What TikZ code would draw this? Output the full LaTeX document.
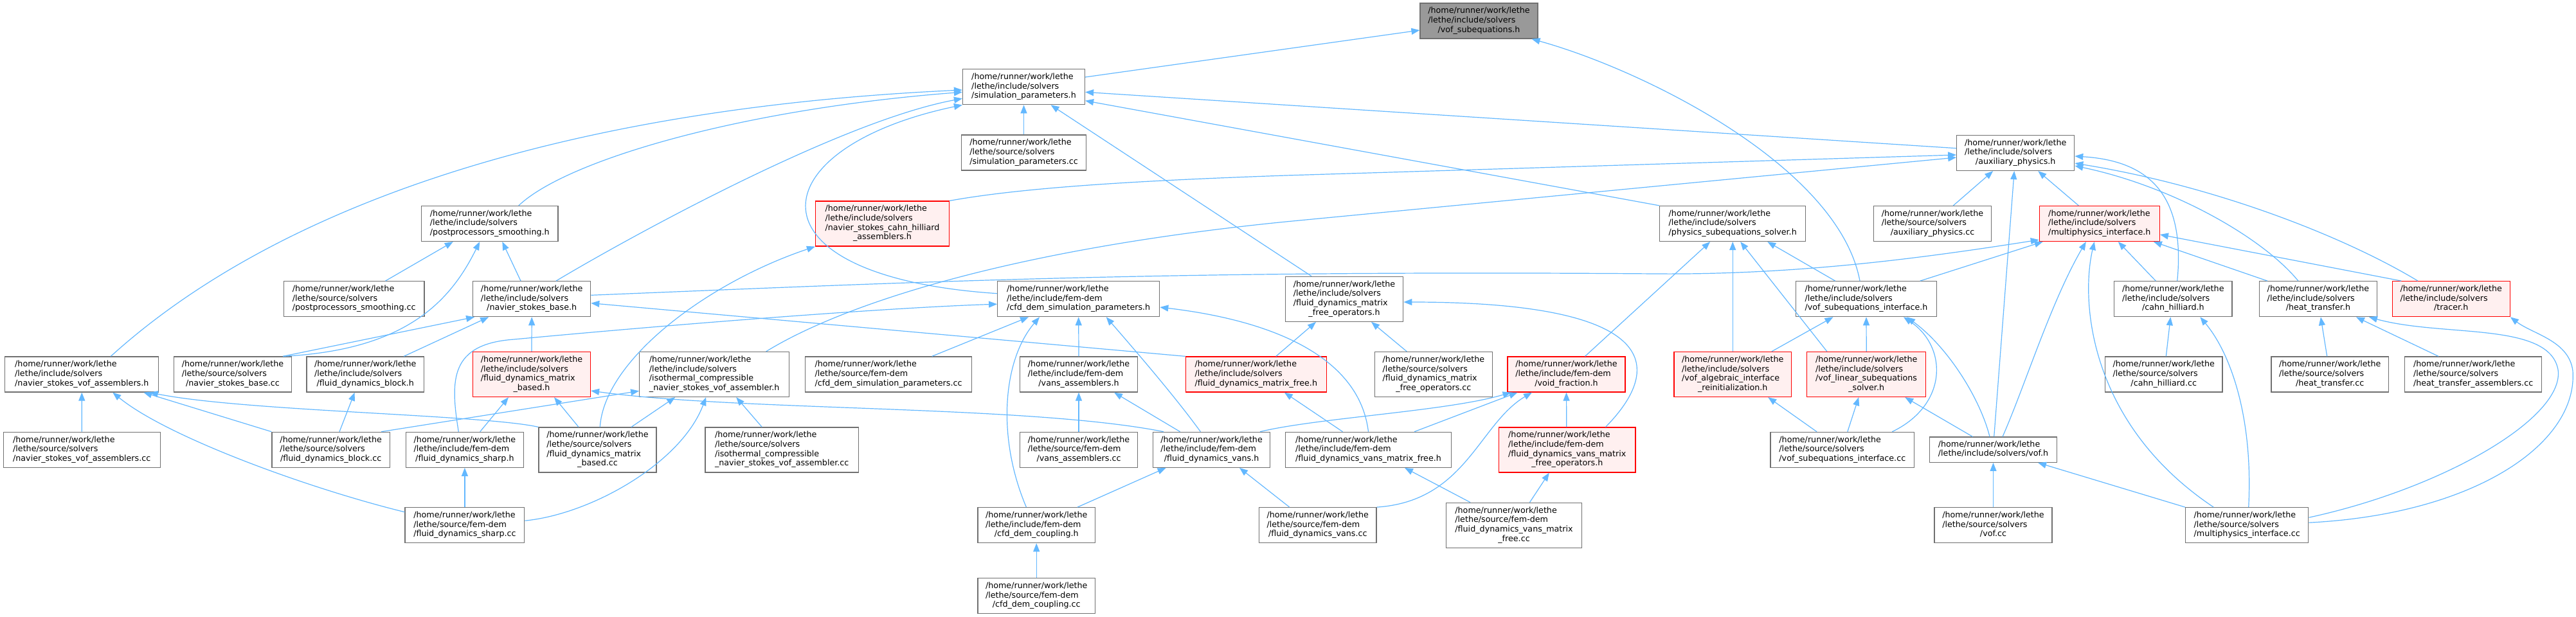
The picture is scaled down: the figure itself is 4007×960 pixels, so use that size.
\documentclass[tikz,border=0pt]{standalone}
\usepackage{fontspec}
\setmainfont{DejaVu Sans}
\usetikzlibrary{arrows.meta}
\definecolor{edgeblue}{HTML}{63B8FF}
\definecolor{boxgray}{HTML}{707070}
\definecolor{rootfill}{HTML}{999999}
\definecolor{pinkfill}{HTML}{FFF0F0}
\newcommand{\ndii}[1]{\begin{tabular}{@{}l@{}}/home/runner/work/lethe\\\multicolumn{1}{@{}c@{}}{#1}\end{tabular}}
\newcommand{\ndiii}[2]{\begin{tabular}{@{}l@{}}/home/runner/work/lethe\\#1\\\multicolumn{1}{@{}c@{}}{#2}\end{tabular}}
\newcommand{\ndiv}[3]{\begin{tabular}{@{}l@{}}/home/runner/work/lethe\\#1\\#2\\\multicolumn{1}{@{}c@{}}{#3}\end{tabular}}
\tikzset{
 nbox/.style={draw=boxgray, fill=white, line width=1.2pt, inner sep=0pt, minimum height=55pt, font=\fontsize{12.7}{14.7}\selectfont},
 nbox4/.style={nbox, minimum height=70pt},
 redbox/.style={draw=red, fill=pinkfill},
 edg/.style={draw=edgeblue, line width=1.2pt, -{Triangle[length=13pt,width=10pt]}},
}
\begin{document}
\begin{tikzpicture}[x=1pt,y=-1pt]
\useasboundingbox (0,0) rectangle (4007,960);
\fill[white] (0,0) rectangle (4007,960);
% nodes
\node[nbox, fill=rootfill, minimum width=183pt] (vofsub) at (2300.5,32.5) {\ndiii{/lethe/include/solvers}{/vof\_subequations.h}};
\node[nbox, minimum width=190pt] (simh) at (1592.5,135.2) {\ndiii{/lethe/include/solvers}{/simulation\_parameters.h}};
\node[nbox, minimum width=194pt] (simcc) at (1592.5,237.5) {\ndiii{/lethe/source/solvers}{/simulation\_parameters.cc}};
\node[nbox4, redbox, minimum width=208pt] (nscah) at (1372.5,348) {\ndiv{/lethe/include/solvers}{/navier\_stokes\_cahn\_hilliard}{\_assemblers.h}};
\node[nbox, minimum width=252pt] (cfdh) at (1677.7,465.2) {\ndiii{/lethe/include/fem-dem}{/cfd\_dem\_simulation\_parameters.h}};
\node[nbox, minimum width=212.4pt] (ppsh) at (761.8,348) {\ndiii{/lethe/include/solvers}{/postprocessors\_smoothing.h}};
\node[nbox, minimum width=218.7pt] (ppscc) at (550.7,465.2) {\ndiii{/lethe/source/solvers}{/postprocessors\_smoothing.cc}};
\node[nbox, minimum width=183pt] (nsbh) at (827.2,465.2) {\ndiii{/lethe/include/solvers}{/navier\_stokes\_base.h}};
\node[nbox, minimum width=239pt] (nsvofh) at (127.3,582.5) {\ndiii{/lethe/include/solvers}{/navier\_stokes\_vof\_assemblers.h}};
\node[nbox, minimum width=183pt] (nsbcc) at (362,582.5) {\ndiii{/lethe/source/solvers}{/navier\_stokes\_base.cc}};
\node[nbox, minimum width=182.5pt] (fdbh) at (568.3,582.5) {\ndiii{/lethe/include/solvers}{/fluid\_dynamics\_block.h}};
\node[nbox4, redbox, minimum width=183pt] (fdmbh) at (827,582.5) {\ndiv{/lethe/include/solvers}{/fluid\_dynamics\_matrix}{\_based.h}};
\node[nbox, minimum width=244pt] (nsvofcc) at (127.2,699.8) {\ndiii{/lethe/source/solvers}{/navier\_stokes\_vof\_assemblers.cc}};
\node[nbox, minimum width=183.6pt] (fdbcc) at (514.7,699.8) {\ndiii{/lethe/source/solvers}{/fluid\_dynamics\_block.cc}};
\node[nbox, minimum width=183pt] (fdsh) at (722.9,699.8) {\ndiii{/lethe/include/fem-dem}{/fluid\_dynamics\_sharp.h}};
\node[nbox4, minimum width=183pt] (fdmbcc) at (929.5,700) {\ndiv{/lethe/source/solvers}{/fluid\_dynamics\_matrix}{\_based.cc}};
\node[nbox, minimum width=185.7pt] (fdscc) at (722.9,817.2) {\ndiii{/lethe/source/fem-dem}{/fluid\_dynamics\_sharp.cc}};
\node[nbox4, minimum width=233pt] (isoh) at (1111.2,582.5) {\ndiv{/lethe/include/solvers}{/isothermal\_compressible}{\_navier\_stokes\_vof\_assembler.h}};
\node[nbox4, minimum width=238.5pt] (isocc) at (1216.2,700) {\ndiv{/lethe/source/solvers}{/isothermal\_compressible}{\_navier\_stokes\_vof\_assembler.cc}};
\node[nbox, minimum width=259pt] (cfdcc) at (1382,582.5) {\ndiii{/lethe/source/fem-dem}{/cfd\_dem\_simulation\_parameters.cc}};
\node[nbox, minimum width=182.4pt] (vansh) at (1678,582.5) {\ndiii{/lethe/include/fem-dem}{/vans\_assemblers.h}};
\node[nbox, redbox, minimum width=219pt] (fdmfh) at (1953.8,582.5) {\ndiii{/lethe/include/solvers}{/fluid\_dynamics\_matrix\_free.h}};
\node[nbox, minimum width=182.4pt] (vanscc) at (1678,699.8) {\ndiii{/lethe/source/fem-dem}{/vans\_assemblers.cc}};
\node[nbox, minimum width=182.4pt] (fdvh) at (1884.6,699.8) {\ndiii{/lethe/include/fem-dem}{/fluid\_dynamics\_vans.h}};
\node[nbox, minimum width=182.5pt] (couph) at (1612.2,817.2) {\ndiii{/lethe/include/fem-dem}{/cfd\_dem\_coupling.h}};
\node[nbox, minimum width=182.5pt] (coupcc) at (1612.2,927.2) {\ndiii{/lethe/source/fem-dem}{/cfd\_dem\_coupling.cc}};
\node[nbox, minimum width=182.4pt] (fdvcc) at (2049.8,817.2) {\ndiii{/lethe/source/fem-dem}{/fluid\_dynamics\_vans.cc}};
\node[nbox4, minimum width=183.4pt] (fdmfoh) at (2091,465.3) {\ndiv{/lethe/include/solvers}{/fluid\_dynamics\_matrix}{\_free\_operators.h}};
\node[nbox4, minimum width=183.2pt] (fdmfocc) at (2229.9,582.5) {\ndiv{/lethe/source/solvers}{/fluid\_dynamics\_matrix}{\_free\_operators.cc}};
\node[nbox, redbox, minimum width=183pt] (voidh) at (2436.5,582.5) {\ndiii{/lethe/include/fem-dem}{/void\_fraction.h}};
\node[nbox, minimum width=258.4pt] (fdvmfh) at (2128.5,699.8) {\ndiii{/lethe/include/fem-dem}{/fluid\_dynamics\_vans\_matrix\_free.h}};
\node[nbox4, redbox, minimum width=212.3pt] (fdvmfoh) at (2437.8,700) {\ndiv{/lethe/include/fem-dem}{/fluid\_dynamics\_vans\_matrix}{\_free\_operators.h}};
\node[nbox4, minimum width=211pt] (fdvmfcc) at (2355,817.2) {\ndiv{/lethe/source/fem-dem}{/fluid\_dynamics\_vans\_matrix}{\_free.cc}};
\node[nbox, minimum width=227pt] (physh) at (2695.2,348) {\ndiii{/lethe/include/solvers}{/physics\_subequations\_solver.h}};
\node[nbox, minimum width=219.3pt] (vsih) at (2903,465.2) {\ndiii{/lethe/include/solvers}{/vof\_subequations\_interface.h}};
\node[nbox4, redbox, minimum width=182.4pt] (valgh) at (2695.2,582.5) {\ndiv{/lethe/include/solvers}{/vof\_algebraic\_interface}{\_reinitialization.h}};
\node[nbox4, redbox, minimum width=185.2pt] (vlinh) at (2903.2,582.5) {\ndiv{/lethe/include/solvers}{/vof\_linear\_subequations}{\_solver.h}};
\node[nbox, minimum width=223.7pt] (vsicc) at (2865.8,699.8) {\ndiii{/lethe/source/solvers}{/vof\_subequations\_interface.cc}};
\node[nbox, minimum width=183pt] (auxh) at (3135.2,238) {\ndiii{/lethe/include/solvers}{/auxiliary\_physics.h}};
\node[nbox, minimum width=182.7pt] (auxcc) at (3006,348) {\ndiii{/lethe/source/solvers}{/auxiliary\_physics.cc}};
\node[nbox, redbox, minimum width=187pt] (multih) at (3265.8,348) {\ndiii{/lethe/include/solvers}{/multiphysics\_interface.h}};
\node[nbox, minimum width=183.3pt] (cahnh) at (3380.3,465.2) {\ndiii{/lethe/include/solvers}{/cahn\_hilliard.h}};
\node[nbox, minimum width=183pt] (heath) at (3605.9,465.2) {\ndiii{/lethe/include/solvers}{/heat\_transfer.h}};
\node[nbox, redbox, minimum width=183pt] (tracerh) at (3812.7,465.2) {\ndiii{/lethe/include/solvers}{/tracer.h}};
\node[nbox, minimum width=182.7pt] (cahncc) at (3365.7,582.5) {\ndiii{/lethe/source/solvers}{/cahn\_hilliard.cc}};
\node[nbox, minimum width=182.4pt] (heatcc) at (3624.2,582.5) {\ndiii{/lethe/source/solvers}{/heat\_transfer.cc}};
\node[nbox, minimum width=213.2pt] (heatasmcc) at (3847.1,582.5) {\ndiii{/lethe/source/solvers}{/heat\_transfer\_assemblers.cc}};
\node[nbox, minimum width=197.6pt, minimum height=39.3pt] (vofh) at (3100.5,699.7) {\ndii{/lethe/include/solvers/vof.h}};
\node[nbox, minimum width=183pt] (vofcc) at (3100.5,817.2) {\ndiii{/lethe/source/solvers}{/vof.cc}};
\node[nbox, minimum width=191.3pt] (multicc) at (3495.2,817.2) {\ndiii{/lethe/source/solvers}{/multiphysics\_interface.cc}};
% edges
\draw[edg] ([yshift=15.2pt]simh.east) -- ([yshift=-14.5pt]vofsub.west);
\draw[edg] ([xshift=-10pt]vsih.north) .. controls (2860,260) and (2560,110) .. ([xshift=82pt]vofsub.south);
\draw[edg] (simcc.north) -- (simh.south);
\draw[edg] ([xshift=45pt]ppsh.north) .. controls (880,250) and (1150,170) .. ([yshift=-8.1pt]simh.west);
\draw[edg] ([xshift=37.8pt]nsbh.north) .. controls (960,380) and (1300,190) .. ([yshift=-18.1pt]simh.west);
\draw[edg] ([xshift=45pt]nsvofh.north) .. controls (420,330) and (850,170) .. ([yshift=-4.8pt]simh.west);
\draw[edg] ([yshift=8.5pt]cfdh.west) .. controls (1150,430) and (1180,230) .. (simh.south west);
\draw[edg] ([xshift=-51pt]fdmfoh.north) -- ([xshift=42pt]simh.south);
\draw[edg] (physh.north west) -- ([yshift=-21.5pt]simh.east);
\draw[edg] ([yshift=7.3pt]auxh.west) -- ([yshift=-8.1pt]simh.east);
\draw[edg] ([xshift=48.8pt]ppscc.north) -- ([xshift=-57pt]ppsh.south);
\draw[edg] ([xshift=78pt]nsbcc.north) .. controls (630,545) and (700,470) .. ([xshift=-15.6pt]ppsh.south);
\draw[edg] ([xshift=-17.2pt]nsbh.north) -- ([xshift=19.5pt]ppsh.south);
\draw[edg] ([xshift=78pt]nsbcc.north) -- ([xshift=3pt]nsbh.south west);
\draw[edg] ([xshift=59.9pt]fdbh.north) -- ([xshift=-67pt]nsbh.south);
\draw[edg] (fdmbh.north) -- (nsbh.south);
\draw[edg] (fdmfh.north west) -- ([yshift=-6.5pt]nsbh.east);
\draw[edg] ([yshift=5.9pt]nsbh.east) .. controls (1400,440) and (1800,420) .. (2574,426) .. controls (2800,428) and (3000,400) .. ([yshift=3pt]multih.south west);
\draw[edg] (nsvofcc.north) -- (nsvofh.south);
\draw[edg] ([yshift=20.5pt]fdscc.west) .. controls (480,760) and (260,680) .. ([xshift=48pt]nsvofh.south);
\draw[edg] (fdbcc.north west) -- ([xshift=96pt]nsvofh.south);
\draw[edg] (fdmbcc.north west) .. controls (750,645) and (380,640) .. ([xshift=105.5pt]nsvofh.south);
\draw[edg] ([xshift=13.3pt]fdbcc.north) -- ([xshift=-16.6pt]fdbh.south);
\draw[edg] ([xshift=23.8pt]fdsh.north) -- ([xshift=-36pt]fdmbh.south);
\draw[edg] ([xshift=-29.5pt]fdmbcc.north) -- ([xshift=35pt]fdmbh.south);
\draw[edg] ([xshift=-74.6pt]fdvh.north) .. controls (1600,630) and (1150,640) .. ([yshift=-25.5pt]fdmbh.east);
\draw[edg] ([xshift=78.5pt]fdbcc.north) -- ([yshift=-25.8pt]isoh.west);
\draw[edg] ([xshift=3.8pt]fdmbcc.north) .. controls (940,560) and (1100,440) .. (nscah.south west);
\draw[edg] ([xshift=52.5pt]fdmbcc.north) -- ([xshift=-61pt]isoh.south);
\draw[edg] ([yshift=7pt]fdscc.east) .. controls (920,800) and (1060,720) .. ([xshift=-13pt]isoh.south);
\draw[edg] ([xshift=-31pt]isocc.north) -- ([xshift=34pt]isoh.south);
\draw[edg] (fdscc.north) -- (fdsh.south);
\draw[edg] ([xshift=-9.6pt]fdsh.north) .. controls (700,590) and (700,535) .. (800,528) .. controls (1100,500) and (1400,478) .. ([yshift=-8pt]cfdh.west);
\draw[edg] ([xshift=80.5pt]isoh.north) .. controls (1300,480) and (1550,390) .. (2000,345) -- ([yshift=-7pt]auxh.west);
\draw[edg] (nscah.north east) .. controls (1600,290) and (1800,280) .. (2000,273) -- ([yshift=-3pt]auxh.west);
\draw[edg] ([xshift=67.6pt]cfdcc.north) -- ([xshift=-77.7pt]cfdh.south);
\draw[edg] ([xshift=-15.8pt]couph.north) .. controls (1550,680) and (1560,560) .. ([xshift=-60.7pt]cfdh.south);
\draw[edg] (vansh.north) -- (cfdh.south);
\draw[edg] ([xshift=-17.2pt]fdvh.north) .. controls (1830,620) and (1770,550) .. ([xshift=43pt]cfdh.south);
\draw[edg] (fdvmfh.north) .. controls (2115,560) and (1990,500) .. ([yshift=-12.8pt]cfdh.east);
\draw[edg] (vanscc.north) -- (vansh.south);
\draw[edg] ([xshift=-49pt]fdvh.north) -- ([xshift=55pt]vansh.south);
\draw[edg] ([xshift=63.8pt]couph.north) -- ([xshift=-71pt]fdvh.south);
\draw[edg] ([xshift=-44pt]fdvcc.north) -- ([xshift=43.4pt]fdvh.south);
\draw[edg] (coupcc.north) -- (couph.south);
\draw[edg] ([xshift=31pt]fdmfh.north) -- ([xshift=-44pt]fdmfoh.south);
\draw[edg] ([xshift=-40pt]fdvmfh.north) -- ([xshift=44pt]fdmfh.south);
\draw[edg] ([xshift=-41.6pt]fdmfocc.north) -- ([xshift=42pt]fdmfoh.south);
\draw[edg] ([xshift=59.7pt]fdvmfoh.north) .. controls (2600,560) and (2560,470) .. ([yshift=-4.7pt]fdmfoh.east);
\draw[edg] ([xshift=75.4pt]fdvh.north) .. controls (2050,650) and (2250,640) .. ([xshift=-86pt]voidh.south);
\draw[edg] ([xshift=71.5pt]fdvmfh.north) -- ([xshift=-76pt]voidh.south);
\draw[edg] (fdvcc.north east) .. controls (2280,780) and (2300,660) .. ([xshift=-53.5pt]voidh.south);
\draw[edg] ([xshift=-1pt]fdvmfoh.north) -- (voidh.south);
\draw[edg] ([xshift=29pt]voidh.north) -- ([xshift=-35pt]physh.south);
\draw[edg] ([xshift=-68pt]fdvmfcc.north) -- ([xshift=56.5pt]fdvmfh.south);
\draw[edg] ([xshift=24.5pt]fdvmfcc.north) -- ([xshift=-28pt]fdvmfoh.south);
\draw[edg] ([xshift=60.6pt]valgh.north) -- ([xshift=-51.5pt]vsih.south);
\draw[edg] (vlinh.north) -- (vsih.south);
\draw[edg] (valgh.north) -- (physh.south);
\draw[edg] ([xshift=-61.3pt]vlinh.north) -- ([xshift=12pt]physh.south);
\draw[edg] ([xshift=-48.3pt]vsih.north) -- ([xshift=54pt]physh.south);
\draw[edg] ([xshift=83.7pt]vsih.north) -- ([xshift=6pt]multih.south west);
\draw[edg] ([xshift=-39.8pt]vsicc.north) -- ([xshift=55pt]valgh.south);
\draw[edg] ([xshift=8pt]vsicc.north) -- ([xshift=-12pt]vlinh.south);
\draw[edg] ([xshift=77.5pt]vsicc.north) .. controls (3030,630) and (3030,540) .. ([xshift=58pt]vsih.south);
\draw[edg] ([xshift=-5.5pt]vofh.north) .. controls (3080,620) and (3030,540) .. ([xshift=63pt]vsih.south);
\draw[edg] ([xshift=-32pt]vofh.north) -- ([xshift=60pt]vlinh.south);
\draw[edg] ([xshift=1.2pt]vofh.north) -- ([xshift=-2pt]auxh.south);
\draw[edg] ([xshift=14.5pt]vofh.north) .. controls (3150,600) and (3190,470) .. ([xshift=-21pt]multih.south);
\draw[edg] ([xshift=-32.5pt]multih.north) -- ([xshift=35pt]auxh.south);
\draw[edg] ([xshift=32.3pt]auxcc.north) -- ([xshift=-35pt]auxh.south);
\draw[edg] ([xshift=-27pt]cahnh.north) -- ([xshift=29pt]multih.south);
\draw[edg] ([xshift=6.4pt]cahnh.north) .. controls (3400,300) and (3340,250) .. ([yshift=-5pt]auxh.east);
\draw[edg] ([xshift=-79pt]heath.north) -- ([xshift=84pt]multih.south);
\draw[edg] ([xshift=-31pt]heath.north) .. controls (3520,370) and (3380,290) .. ([yshift=-20pt]auxh.east);
\draw[edg] ([xshift=-77.4pt]tracerh.north) -- ([yshift=-17pt]multih.east);
\draw[edg] ([xshift=-51.7pt]tracerh.north) .. controls (3650,370) and (3450,290) .. ([yshift=-16pt]auxh.east);
\draw[edg] ([xshift=-52pt]multicc.north) .. controls (3250,660) and (3236,470) .. ([xshift=-8pt]multih.south);
\draw[edg] ([xshift=2.5pt]multicc.north) .. controls (3505,650) and (3470,550) .. ([xshift=42pt]cahnh.south);
\draw[edg] (multicc.north west) -- ([xshift=69.5pt]vofh.south);
\draw[edg] ([yshift=12pt]multicc.east) .. controls (3800,760) and (3990,650) .. (3979,575) .. controls (3965,500) and (3800,525) .. ([xshift=79pt]heath.south);
\draw[edg] ([yshift=4pt]multicc.east) .. controls (3850,800) and (4010,690) .. (4002,577) .. controls (3996,530) and (3940,520) .. (tracerh.south east);
\draw[edg] (vofcc.north) -- (vofh.south);
\draw[edg] ([xshift=3.6pt]cahncc.north) -- ([xshift=-4pt]cahnh.south);
\draw[edg] ([xshift=-4.5pt]heatcc.north) -- ([xshift=4pt]heath.south);
\draw[edg] ([xshift=-54pt]heatasmcc.north) -- ([xshift=59pt]heath.south);
\end{tikzpicture}
\end{document}
